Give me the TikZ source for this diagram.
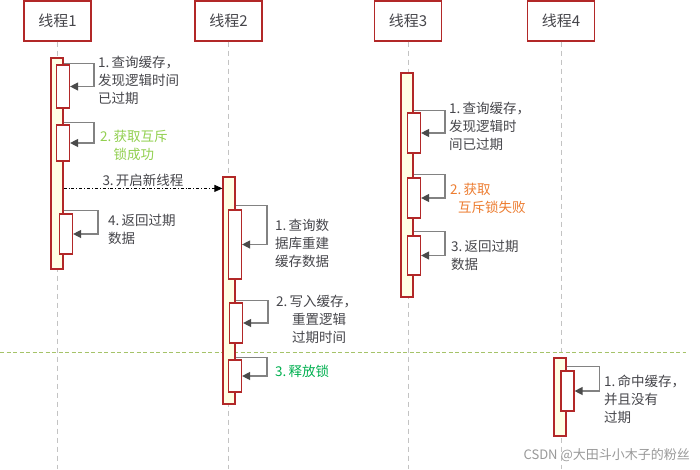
\documentclass[tikz,border=0pt]{standalone}
\usepackage{fontspec}
\setmainfont{Noto Sans CJK SC}
\usetikzlibrary{arrows.meta,calc}
\definecolor{boxred}{RGB}{178,40,40}
\definecolor{barfill}{RGB}{255,255,228}
\definecolor{txtgray}{RGB}{70,70,75}
\definecolor{lifegray}{RGB}{195,195,195}
\definecolor{linegray}{RGB}{130,130,130}
\definecolor{tipgray}{RGB}{75,75,75}
\definecolor{okgreen}{RGB}{146,208,80}
\definecolor{relgreen}{RGB}{0,176,80}
\definecolor{failorange}{RGB}{237,125,49}
\definecolor{sepgreen}{RGB}{165,195,105}

\begin{document}
\begin{tikzpicture}[x=1pt,y=-1pt,
		head/.style={draw=boxred,line width=1.2pt,minimum width=67pt,minimum height=40pt,inner sep=0pt,text=txtgray,font=\fontsize{15}{18}\selectfont},
		life/.style={draw=lifegray,line width=0.8pt,dash pattern=on 5pt off 4pt},
		bar/.style={draw=boxred,fill=barfill,line width=1.2pt,minimum width=12pt,inner sep=0pt},
		sub/.style={draw=boxred,fill=white,line width=1.2pt,minimum width=13pt,inner sep=0pt},
		selfmsg/.style={draw=linegray,line width=1.3pt,-{Triangle[length=8pt,width=8pt,color=tipgray]}},
		async/.style={draw=black,line width=0.8pt,dash dot,-{Triangle[length=8pt,width=7pt]}},
		note/.style={inner sep=0pt,anchor=north west,align=left,text=txtgray,font=\fontsize{13.5}{18}\selectfont}]
		\useasboundingbox[fill=white] (0,0) rectangle (700,469);

		% threads
		\node[head] (t1) at (57.5,21) {线程1};
		\node[head] (t2) at (228.5,21) {线程2};
		\node[head] (t3) at (408,21) {线程3};
		\node[head] (t4) at (561,21) {线程4};
		\coordinate (bottom) at (0,469);
		\draw[life] (t1.south) -- (t1.south |- bottom);
		\draw[life] (t2.south) -- (t2.south |- bottom);
		\draw[life] (t3.south) -- (t3.south |- bottom);
		\draw[life] (t4.south) -- (t4.south |- bottom);

		% separator
		\coordinate (sepL) at (0,352);
		\coordinate (sepR) at (686,352);
		\draw[sepgreen,line width=0.9pt,dash pattern=on 4pt off 2.5pt] (sepL) -- (sepR);

		% activations
		\node[bar,minimum height=211pt] (a1) at (57,163.5) {};
		\node[bar,minimum height=227pt] (a2) at (229,290.5) {};
		\node[bar,minimum height=224pt] (a3) at (407,185) {};
		\node[bar,minimum height=78pt] (a4) at (560,397) {};

		\node[sub,minimum height=43pt] (i11) at (63,86.5) {};
		\node[sub,minimum height=36pt] (i12) at (63,143) {};
		\node[sub,minimum height=40pt] (i13) at (66,234) {};
		\node[sub,minimum height=69pt] (i21) at (235,244.5) {};
		\node[sub,minimum height=40pt] (i22) at (236,323) {};
		\node[sub,minimum height=32pt] (i23) at (235,376) {};
		\node[sub,minimum height=40pt] (i31) at (414,133) {};
		\node[sub,minimum height=40pt] (i32) at (414,198) {};
		\node[sub,minimum height=39pt] (i33) at (414,255.5) {};
		\node[sub,minimum height=40pt] (i41) at (567.5,391) {};

		% self calls
		\draw[selfmsg] ($(a1.east |- i11.north)+(0,-1)$) -| ($(i11.east)+(24,0)$) -- (i11.east);
		\draw[selfmsg] ($(a1.east |- i12.north)+(0,-2)$) -| ($(i12.east)+(24,0)$) -- (i12.east);
		\draw[selfmsg] ($(a1.east |- i13.north)+(0,-3)$) -| ($(i13.east)+(25,0)$) -- (i13.east);
		\draw[selfmsg] ($(a2.east |- i21.north)+(0,-4)$) -| ($(i21.east)+(25,0)$) -- (i21.east);
		\draw[selfmsg] ($(a2.east |- i22.north)+(0,-2)$) -| ($(i22.east)+(25,0)$) -- (i22.east);
		\draw[selfmsg] ($(a2.east |- i23.north)+(0,-2)$) -| ($(i23.east)+(25,0)$) -- (i23.east);
		\draw[selfmsg] ($(a3.east |- i31.north)+(0,-2)$) -| ($(i31.east)+(24,0)$) -- (i31.east);
		\draw[selfmsg] ($(a3.east |- i32.north)+(0,-3)$) -| ($(i32.east)+(24,0)$) -- (i32.east);
		\draw[selfmsg] ($(a3.east |- i33.north)+(0,-4)$) -| ($(i33.east)+(24,0)$) -- (i33.east);
		\draw[selfmsg] ($(a4.east |- i41.north)+(0,-4)$) -| ($(i41.east)+(25,0)$) -- (i41.east);

		% new thread
		\draw[async] ($(a1.east |- a2.north)+(0,12)$) -- ($(a2.north west)+(0,12)$)
			node[midway,above=1pt,text=txtgray,inner sep=0pt,font=\fontsize{13.5}{18}\selectfont] (m3) {3.\,开启新线程};

		% notes
		\node[note] (n11) at (98,56) {1.\,查询缓存，\\发现逻辑时间\\已过期};
		\node[note,align=center,text=okgreen] (n12) at (100,130) {2.\,获取互斥\\锁成功};
		\node[note] (n13) at (108,214) {4.\,返回过期\\数据};
		\node[note] (n21) at (275,219) {1.\,查询数\\据库重建\\缓存数据};
		\node[note] (n22) at (276,295) {2.\,写入缓存，\\\hspace*{16pt}重置逻辑\\\hspace*{16pt}过期时间};
		\node[note,text=relgreen] (n23) at (275,365) {3.\,释放锁};
		\node[note] (n31) at (449,102) {1.\,查询缓存，\\发现逻辑时\\间已过期};
		\node[note,text=failorange] (n32) at (450,183) {2.\,获取\\\hspace*{8pt}互斥锁失败};
		\node[note] (n33) at (451,240) {3.\,返回过期\\数据};
		\node[note] (n41) at (604,375) {1.\,命中缓存，\\并且没有\\过期};

		\node[inner sep=0pt,anchor=east,text=black!40,font=\fontsize{13}{15}\selectfont] (wm) at (690,455) {CSDN @大田斗小木子的粉丝};
	\end{tikzpicture}
\end{document}
